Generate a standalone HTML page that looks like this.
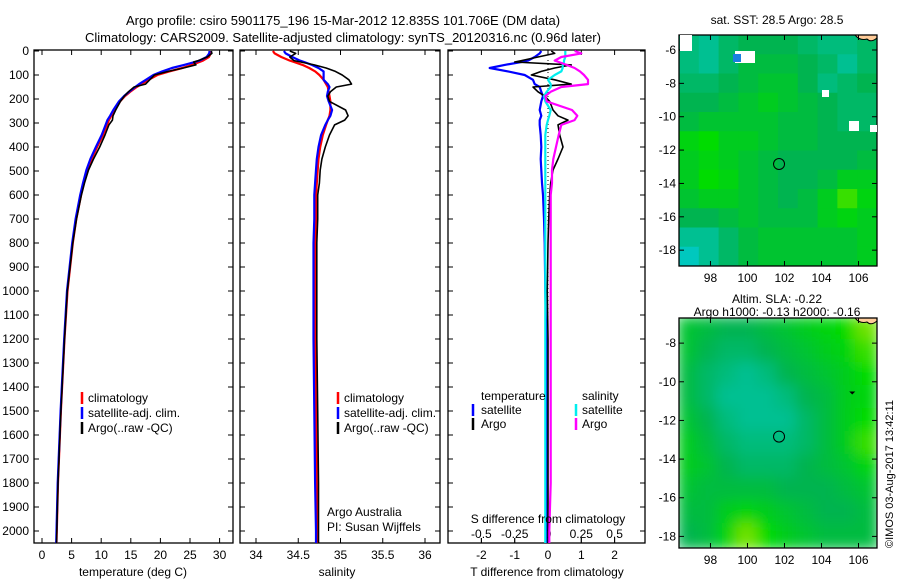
<!DOCTYPE html>
<html><head><meta charset="utf-8">
<style>
body{margin:0;background:#fff;}
svg{display:block;font-family:"Liberation Sans",sans-serif;font-size:12px;}
</style></head>
<body>
<svg id="chart" width="900" height="580" viewBox="0 0 900 580">
<text x="343" y="25" text-anchor="middle" font-size="13">Argo profile: csiro 5901175_196 15-Mar-2012 12.835S 101.706E (DM data)</text>
<text x="343" y="42" text-anchor="middle" font-size="13">Climatology: CARS2009. Satellite-adjusted climatology: synTS_20120316.nc (0.96d later)</text>
<g id="g"></g>
</svg>
<script>
const depths=[0,10,25,40,46,58,71,85,100,120,138,150,170,188,210,246,270,288,308,350,400,450,496,550,600,700,800,1000,1200,1500,1800,2000,2050];
const tClim=[28.5,28.5,28.2,27.2,26.6,25.3,23.7,21.5,19.5,18,16.8,16,14.9,14,13.2,12.3,11.7,11.3,11,10.3,9.3,8.4,7.7,7.1,6.6,5.8,5.2,4.3,3.8,3.2,2.7,2.5,2.45];
const dTsat=[-0.2,-0.25,-0.4,-0.6,-0.8,-1.3,-1.75,-1.2,-0.7,-0.45,-0.4,-0.25,-0.2,-0.15,-0.2,-0.25,-0.2,-0.25,-0.25,-0.22,-0.2,-0.22,-0.2,-0.18,-0.15,-0.12,-0.1,-0.08,-0.05,-0.05,-0.05,-0.05,-0.05];
const dTargo=[0.1,0.2,-0.3,-0.8,-1,0.7,0.2,-0.2,-0.5,0.2,0.7,-0.45,-0.3,-0.1,0.05,0.15,0.3,0.6,0.3,0.35,0.45,0.3,0.15,0.08,0.05,0.02,0,-0.02,0,0,0,0,0];
const sClim=[34.2,34.22,34.3,34.4,34.45,34.55,34.63,34.7,34.75,34.8,34.83,34.85,34.86,34.87,34.88,34.88,34.87,34.85,34.83,34.79,34.76,34.74,34.73,34.72,34.71,34.71,34.7,34.7,34.7,34.71,34.72,34.73,34.73];
const dSsat=[0.13,0.13,0.13,0.12,0.12,0.11,0.11,0.1,0.05,0,0.02,0.02,-0.01,-0.03,-0.02,0.02,0.01,0,-0.01,-0.02,-0.02,-0.02,-0.02,-0.02,-0.02,-0.02,-0.02,-0.02,-0.02,-0.02,-0.02,-0.02,-0.02];
const dSargo=[0.2,0.25,0.1,0.05,0.08,0.14,0.2,0.24,0.27,0.3,0.3,0.1,0.02,-0.02,-0.01,0.18,0.22,0.2,0.1,0.08,0.06,0.04,0.03,0.03,0.02,0.02,0.02,0.02,0.02,0.02,0.02,0.01,0.01];
const depthTicks=[0,100,200,300,400,500,600,700,800,900,1000,1100,1200,1300,1400,1500,1600,1700,1800,1900,2000];
const tTicks=[0,5,10,15,20,25,30];
const sTicks=[34,34.5,35,35.5,36];
const dtTicks=[-2,-1,0,1,2];
const dsTicks=[-0.5,-0.25,0,0.25,0.5];
const sstGrid=[
[.3,.2,.4,.5,.5,.5,.4,.3,.3,.4],[.3,.2,.4,.6,.6,.6,.5,.4,.2,.4],[.4,.4,.5,.6,.7,.7,.5,.3,.4,.5],
[.5,.5,.6,.7,.8,.7,.6,.5,.4,.4],[.6,.7,.7,.7,.7,.6,.6,.5,.4,.4],[.9,1,.8,.8,.7,.6,.6,.5,.5,.5],
[.8,.9,.8,.7,.6,.5,.5,.5,.5,.6],[.8,1,.9,.7,.6,.5,.5,.6,.8,.8],[.7,.8,.8,.7,.6,.5,.6,.8,1.1,.9],
[.5,.5,.6,.7,.6,.6,.6,.8,.9,.8],[.2,.2,.4,.6,.7,.7,.7,.7,.7,.8],[0,.2,.4,.6,.7,.7,.7,.7,.7,.8]];
const slaGrid=[
[.7,.6,.5,.5,.6,.7,.8,.9,1,1.2],[.7,.5,.4,.4,.5,.6,.7,.8,.9,1.1],[.6,.4,.3,.2,.3,.5,.6,.7,.8,1],
[.6,.4,.2,.2,.2,.3,.5,.6,.8,.9],[.7,.5,.3,.2,.2,.2,.4,.6,.8,1],[.8,.6,.4,.3,.3,.3,.4,.6,.8,1.1],
[.8,.7,.5,.4,.4,.4,.5,.6,.7,.9],[.7,.6,.6,.6,.6,.5,.5,.5,.6,.7],[.6,.6,.8,.9,.8,.7,.6,.5,.5,.6],[.5,.6,.9,1.2,1,.8,.7,.6,.6,.6]];
const lonTicks=[98,100,102,104,106];
const latTicksTop=[-6,-8,-10,-12,-14,-16,-18];
const latTicksBot=[-8,-10,-12,-14,-16,-18];
const argoLon=101.706, argoLat=-12.835;

const NS='http://www.w3.org/2000/svg';
const G=document.getElementById('g');
function el(t,a,p){const e=document.createElementNS(NS,t);for(const k in a)e.setAttribute(k,a[k]);(p||G).appendChild(e);return e;}
function txt(x,y,s,anc,p,fs){const e=el('text',{x:x,y:y,'text-anchor':anc||'middle'},p);if(fs)e.setAttribute('font-size',fs);e.textContent=s;return e;}
const yD=d=>51+d*0.24;
const xT=v=>42+v*5.92;
const xS=v=>256+(v-34)*84.5;
const xDT=v=>548+v*33.3;
const xDS=v=>548+v*133.2;

function frame(x0,x1,name){
  const r=el('rect',{x:x0,y:50,width:x1-x0,height:493,fill:'none',stroke:'#000','stroke-width':1.3});
  
  depthTicks.forEach(d=>{el('line',{x1:x0,x2:x0+5,y1:yD(d),y2:yD(d),stroke:'#000'});el('line',{x1:x1,x2:x1-5,y1:yD(d),y2:yD(d),stroke:'#000'});});
}
function line(xs,xf,color,name,w){
  const p=el('polyline',{points:xs.map((v,i)=>xf(v).toFixed(1)+','+yD(depths[i]).toFixed(1)).join(' '),fill:'none',stroke:color,'stroke-width':w||2.2,'stroke-linejoin':'round'});
  
}
// panel 1
frame(34,233,'temperature-panel');
depthTicks.forEach(d=>{const t=txt(29,yD(d)+4,String(d),'end');});
tTicks.forEach(v=>{el('line',{x1:xT(v),x2:xT(v),y1:543,y2:538,stroke:'#000'});el('line',{x1:xT(v),x2:xT(v),y1:50,y2:55,stroke:'#000'});const t=txt(xT(v),559,String(v));});
let t1=txt(133,576,'temperature (deg C)');
line(tClim,xT,'#f00','temperature-climatology-line');
line(tClim.map((v,i)=>v+dTsat[i]),xT,'#00f','temperature-satellite-line');
line(tClim.map((v,i)=>v+dTargo[i]),xT,'#000','temperature-argo-line',1.6);
function legend(x,y,pfx){
  [['climatology','#f00'],['satellite-adj. clim.','#00f'],['Argo(..raw -QC)','#000']].forEach((e,i)=>{
    el('line',{x1:x,x2:x,y1:y+i*15-10,y2:y+i*15+2,stroke:e[1],'stroke-width':2.5});
    const t=txt(x+6,y+i*15,e[0],'start');
  });
}
legend(82,402,'temperature');
// panel 2
frame(240,440,'salinity-panel');
sTicks.forEach(v=>{el('line',{x1:xS(v),x2:xS(v),y1:543,y2:538,stroke:'#000'});el('line',{x1:xS(v),x2:xS(v),y1:50,y2:55,stroke:'#000'});const t=txt(xS(v),559,String(v));});
let t2=txt(337,576,'salinity');
line(sClim,xS,'#f00','salinity-climatology-line');
line(sClim.map((v,i)=>v+dSsat[i]),xS,'#00f','salinity-satellite-line');
line(sClim.map((v,i)=>v+dSargo[i]),xS,'#000','salinity-argo-line',1.6);
legend(338,402,'salinity');
let a1=txt(327,516,'Argo Australia','start');
let a2=txt(327,531,'PI: Susan Wijffels','start');
// panel 3
frame(448,645,'difference-panel');
el('line',{x1:548,x2:548,y1:60,y2:540,stroke:'#000','stroke-dasharray':'1,3'});
dtTicks.forEach(v=>{el('line',{x1:xDT(v),x2:xDT(v),y1:543,y2:538,stroke:'#000'});el('line',{x1:xDT(v),x2:xDT(v),y1:50,y2:55,stroke:'#000'});const t=txt(xDT(v),559,String(v));});
dsTicks.forEach(v=>{el('line',{x1:xDS(v),x2:xDS(v),y1:543,y2:538,stroke:'#000'});const t=txt(xDS(v),538,String(v));});
let t3=txt(547,576,'T difference from climatology');
line(dTsat,xDT,'#00f','t-diff-satellite-line');
line(dTargo,xDT,'#000','t-diff-argo-line',1.6);
line(dSsat,xDS,'#0ee','s-diff-satellite-line');
line(dSargo,xDS,'#f0f','s-diff-argo-line');
let t4=txt(548,523,'S difference from climatology');
[['temperature',481,'start'],['satellite',481,'start'],['Argo',481,'start']].forEach((e,i)=>{const t=txt(e[1],400+i*14,e[0],e[2]);});
[['salinity',582],['satellite',582],['Argo',582]].forEach((e,i)=>{const t=txt(e[1],400+i*14,e[0],'start');});
el('line',{x1:473,x2:473,y1:404,y2:416,stroke:'#00f','stroke-width':2.5});
el('line',{x1:473,x2:473,y1:418,y2:430,stroke:'#000','stroke-width':2.5});
el('line',{x1:576,x2:576,y1:404,y2:416,stroke:'#0ee','stroke-width':2.5});
el('line',{x1:576,x2:576,y1:418,y2:430,stroke:'#f0f','stroke-width':2.5});
// maps
function col(v){
  let r,g,b;
  if(v<0.5){const f=v/0.5;r=0;g=200-20*f;b=190-110*f;}
  else if(v<1){const f=(v-0.5)/0.5;r=0;g=180+40*f;b=80-80*f;}
  else {const f=Math.min(1,(v-1)/0.3);r=170*f;g=220+10*f;b=0;}
  return `rgb(${r|0},${g|0},${b|0})`;
}
function map(grid,x0,y0,w,h,lonA,lonB,latTop,latBot,latTicks,name,blur){
  const gm=el('g',{});
  const cp=el('clipPath',{id:name+'c'},gm);el('rect',{x:x0,y:y0,width:w,height:h},cp);
  const gi=el('g',{'clip-path':`url(#${name}c)`},gm);
  const inner=el('g',blur?{filter:'url(#bl)'}:{},gi);
  const rows=grid.length,cols=grid[0].length,cw=w/cols,ch=h/rows;
  grid.forEach((row,r)=>row.forEach((v,c)=>{const e=el('rect',{x:x0+c*cw-(blur?2:0),y:y0+r*ch-(blur?2:0),width:cw+(blur?4:0.5),height:ch+(blur?4:0.5),fill:col(v)},inner);
    }));
  const X=l=>x0+(l-lonA)/(lonB-lonA)*w, Y=l=>y0+(latTop-l)/(latTop-latBot)*h;
  el('path',{d:`M${x0+w-22},${y0} q5,6 12,4 q4,4 10,-1 v-4z`,fill:'#fc9',stroke:'#000'},gi);
  el('circle',{cx:X(argoLon),cy:Y(argoLat),r:5.5,fill:'none',stroke:'#000'},gm);
  el('path',{d:`M${X(105.5)},${Y(-10.5)} l6,0 l-3,3z`,fill:'#000'},gm);
  el('rect',{x:x0,y:y0,width:w,height:h,fill:'none',stroke:'#000','stroke-width':1.3},gm);
  lonTicks.forEach(l=>{el('line',{x1:X(l),x2:X(l),y1:y0+h,y2:y0+h-5,stroke:'#000'},gm);el('line',{x1:X(l),x2:X(l),y1:y0,y2:y0+5,stroke:'#000'},gm);const t=txt(X(l),y0+h+16,String(l),'middle',gm);});
  latTicks.forEach(l=>{el('line',{x1:x0,x2:x0+5,y1:Y(l),y2:Y(l),stroke:'#000'},gm);el('line',{x1:x0+w,x2:x0+w-5,y1:Y(l),y2:Y(l),stroke:'#000'},gm);const t=txt(x0-3,Y(l)+4,String(l),'end',gm);});
  return {X,Y};
}
const defs=el('defs',{});const f=el('filter',{id:'bl',x:'-10%',y:'-10%',width:'120%',height:'120%'},defs);el('feGaussianBlur',{stdDeviation:7},f);
const m1=map(sstGrid,679,35,198,231,96.3,107,-5.1,-18.95,latTicksTop,'sst-map',false);
[[680,35,12,16],[735,51,20,12],[849,121,10,10],[870,125,7,7],[822,90,7,7]].forEach(r=>el('rect',{x:r[0],y:r[1],width:r[2],height:r[3],fill:'#fff'}));
el('rect',{x:733,y:54,width:8,height:8,fill:'#1a7fe0'});
let m1t=txt(777,24,'sat. SST: 28.5 Argo: 28.5');
map(slaGrid,679,318,198,230,96.3,107,-6.7,-18.6,latTicksBot,'sla-map',true);
let m2a=txt(777,303,'Altim. SLA: -0.22');
let m2b=txt(777,316,'Argo h1000: -0.13 h2000: -0.16');
const cr=el('text',{x:893,y:548,transform:'rotate(-90 893 548)','text-anchor':'start','font-size':11});cr.textContent='©IMOS 03-Aug-2017 13:42:11';

</script>
</body></html>
